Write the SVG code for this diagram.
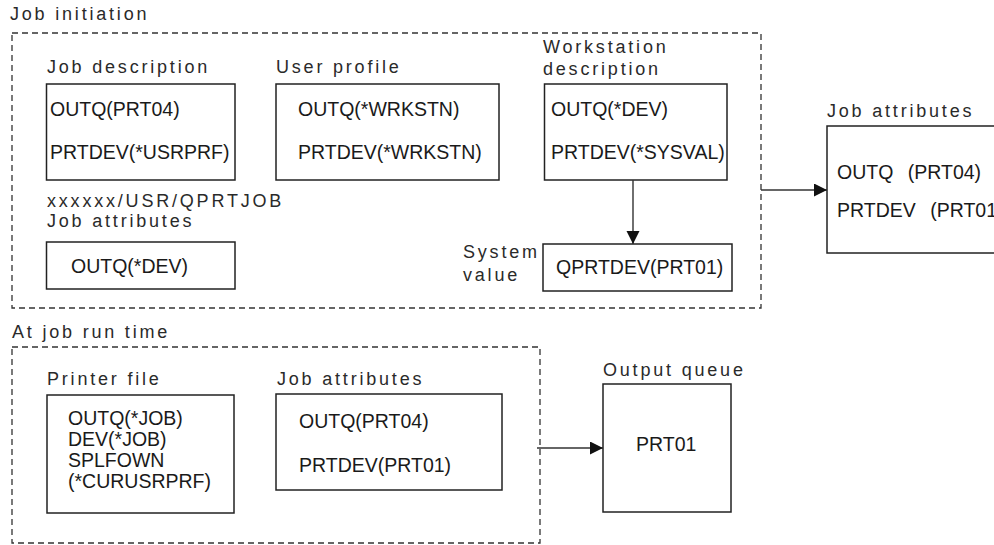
<svg xmlns="http://www.w3.org/2000/svg" width="994" height="545" viewBox="0 0 994 545">
<style>
  text { font-family: "Liberation Sans", Arial, sans-serif; fill: #1a1a1a; }
  .t { font-size: 19.5px; }
  .lbl { font-size: 18px; letter-spacing: 2.8px; fill: #2a2a2a; }
  .box { fill: #fff; stroke: #222; stroke-width: 1.5; }
  .dash { fill: none; stroke: #333; stroke-width: 1.3; stroke-dasharray: 6 4; }
  .conn { fill: none; stroke: #333; stroke-width: 1.4; }
</style>
<defs>
  <marker id="ah" markerUnits="userSpaceOnUse" markerWidth="14" markerHeight="14" refX="13" refY="6.5" orient="auto">
    <path d="M0,0 L13,6.5 L0,13 z" fill="#111"/>
  </marker>
</defs>
<rect width="994" height="545" fill="#fff"/>

<g id="job-initiation">
  <text class="lbl" x="10" y="20">Job initiation</text>
  <rect class="dash" x="12" y="33" width="749" height="275"/>
</g>

<g id="job-description">
  <text class="lbl" x="47" y="73">Job description</text>
  <rect class="box" x="46.5" y="84" width="188.5" height="96"/>
  <text class="t" x="50" y="116">OUTQ(PRT04)</text>
  <text class="t" x="50" y="159">PRTDEV(*USRPRF)</text>
</g>

<g id="user-profile">
  <text class="lbl" x="276" y="73">User profile</text>
  <rect class="box" x="276" y="84" width="223" height="96"/>
  <text class="t" x="298" y="116">OUTQ(*WRKSTN)</text>
  <text class="t" x="298" y="159">PRTDEV(*WRKSTN)</text>
</g>

<g id="workstation-description">
  <text class="lbl" x="543" y="53">Workstation</text>
  <text class="lbl" x="543" y="75">description</text>
  <rect class="box" x="544.5" y="84" width="182.5" height="96"/>
  <text class="t" x="551" y="116">OUTQ(*DEV)</text>
  <text class="t" x="551" y="159">PRTDEV(*SYSVAL)</text>
</g>

<g id="qprtjob-job-attributes">
  <text class="lbl" x="47" y="207">xxxxxx/USR/QPRTJOB</text>
  <text class="lbl" x="47" y="227">Job attributes</text>
  <rect class="box" x="46.5" y="242" width="188.5" height="47"/>
  <text class="t" x="71" y="273">OUTQ(*DEV)</text>
</g>

<g id="system-value">
  <text class="lbl" x="463" y="258">System</text>
  <text class="lbl" x="463" y="281">value</text>
  <rect class="box" x="543" y="244" width="189" height="47"/>
  <text class="t" x="556" y="274">QPRTDEV(PRT01)</text>
</g>

<g id="job-attributes-result">
  <text class="lbl" x="827" y="117">Job attributes</text>
  <rect class="box" x="827" y="126" width="180" height="127"/>
  <text class="t" x="837" y="179" word-spacing="9">OUTQ (PRT04)</text>
  <text class="t" x="837" y="217" word-spacing="9">PRTDEV (PRT01</text>
</g>

<g id="job-run-time">
  <text class="lbl" x="12" y="338">At job run time</text>
  <rect class="dash" x="12" y="347" width="528" height="196"/>
</g>

<g id="printer-file">
  <text class="lbl" x="47" y="385">Printer file</text>
  <rect class="box" x="47" y="395" width="187" height="118"/>
  <text class="t" x="68" y="425">OUTQ(*JOB)</text>
  <text class="t" x="68" y="446">DEV(*JOB)</text>
  <text class="t" x="68" y="467">SPLFOWN</text>
  <text class="t" x="68" y="488">(*CURUSRPRF)</text>
</g>

<g id="run-job-attributes">
  <text class="lbl" x="277" y="385">Job attributes</text>
  <rect class="box" x="276" y="394" width="226" height="96"/>
  <text class="t" x="299" y="428">OUTQ(PRT04)</text>
  <text class="t" x="299" y="472">PRTDEV(PRT01)</text>
</g>

<g id="output-queue">
  <text class="lbl" x="603" y="376">Output queue</text>
  <rect class="box" x="603" y="384" width="128" height="128"/>
  <text class="t" x="636" y="451">PRT01</text>
</g>

<g id="connectors">
  <line class="conn" x1="633" y1="180" x2="633" y2="244" marker-end="url(#ah)"/>
  <line class="conn" x1="761" y1="190" x2="827" y2="190" marker-end="url(#ah)"/>
  <line class="conn" x1="537" y1="448" x2="603" y2="448" stroke="#555" marker-end="url(#ah)"/>
</g>
</svg>
